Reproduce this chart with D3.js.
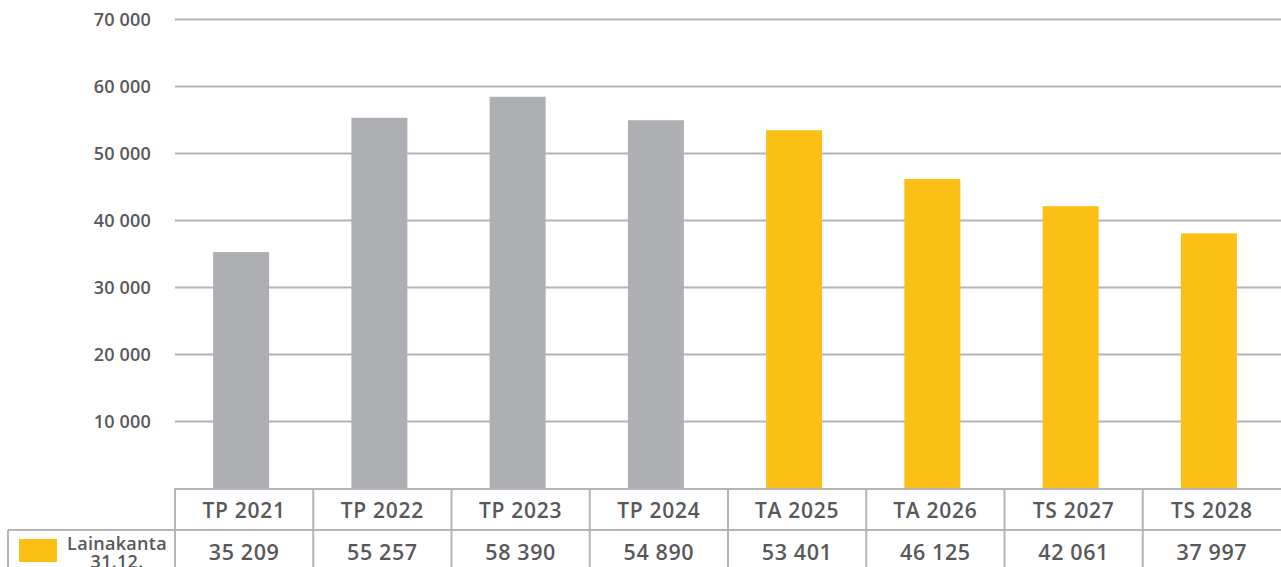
<!DOCTYPE html>
<html>
<head>
<meta charset="utf-8">
<script src="https://cdn.jsdelivr.net/npm/d3@7"></script>
<style>
  html, body { margin: 0; padding: 0; background: #fff; }
  svg { display: block; font-family: "Open Sans", sans-serif; }
</style>
</head>
<body>
<div id="chart"></div>
<script>
// Lainakanta chart
var years = ["TP 2021", "TP 2022", "TP 2023", "TP 2024", "TA 2025", "TA 2026", "TS 2027", "TS 2028"]
var values = [35209, 55257, 58390, 54890, 53401, 46125, 42061, 37997]
var actual = [true, true, true, true, false, false, false, false]
var yTicks = [10000, 20000, 30000, 40000, 50000, 60000, 70000]
var seriesName = ["Lainakanta", "31.12."]

var
  WIDTH = 1281,
  HEIGHT = 567,
  LEFT = 175,
  BASE = 488,
  TOP = 19,
  ROW1 = 530,
  GREY = "#aeafb3",
  YELLOW = "#fbbf15",
  LINE = "#b4b4b9",
  TEXT = "#58585a"

var fi = d3.formatLocale({ decimal: ",", thousands: " ", grouping: [3], currency: ["", ""] })
var fmt = fi.format(",d")

var svg = d3.select("#chart").append("svg")
  .attr("width", WIDTH)
  .attr("height", HEIGHT)

var x = d3.scaleBand().domain(years).range([LEFT, WIDTH]).padding(0)
var y = d3.scaleLinear().domain([0, 70000]).range([BASE, TOP])

// y axis + gridlines
var yAxis = svg.append("g")
  .attr("transform", "translate(" + LEFT + ",0)")
  .call(d3.axisLeft(y).tickValues(yTicks).tickSize(-(WIDTH - LEFT)).tickPadding(24).tickFormat(fmt))

yAxis.select(".domain").remove()
yAxis.selectAll(".tick line").attr("stroke", LINE).attr("stroke-width", 2)
yAxis.selectAll(".tick text")
  .attr("fill", TEXT)
  .attr("font-size", 18)
  .attr("font-weight", 600)
  .attr("letter-spacing", 0.2)
  .attr("font-family", "Open Sans, sans-serif")
  .attr("dy", "0.35em")

// bars
var bw = x.bandwidth() * 0.405
svg.append("g").selectAll("rect")
  .data(years)
  .join("rect")
  .attr("x", (d) => x(d) + x.bandwidth() / 2 - bw / 2 - 3)
  .attr("width", bw)
  .attr("y", (d, i) => y(values[i]))
  .attr("height", (d, i) => y(0) - y(values[i]))
  .attr("fill", (d, i) => actual[i] ? GREY : YELLOW)

// table lines
var tbl = svg.append("g").attr("stroke", LINE).attr("stroke-width", 2).attr("fill", "none")
tbl.append("line").attr("x1", LEFT).attr("x2", WIDTH).attr("y1", BASE + 1).attr("y2", BASE + 1)
tbl.append("line").attr("x1", 8).attr("x2", WIDTH).attr("y1", ROW1).attr("y2", ROW1)
tbl.append("line").attr("x1", 8).attr("x2", 8).attr("y1", ROW1).attr("y2", HEIGHT)
tbl.selectAll(".col")
  .data(years)
  .join("line")
  .attr("class", "col")
  .attr("x1", (d) => x(d))
  .attr("x2", (d) => x(d))
  .attr("y1", BASE)
  .attr("y2", HEIGHT)

// header row
svg.append("g").selectAll("text")
  .data(years)
  .join("text")
  .attr("x", (d) => x(d) + x.bandwidth() / 2)
  .attr("y", 518)
  .attr("text-anchor", "middle")
  .attr("fill", TEXT)
  .attr("font-size", 21)
  .attr("font-weight", 600)
  .attr("letter-spacing", 0.7)
  .text((d) => d)

// value row
svg.append("g").selectAll("text")
  .data(values)
  .join("text")
  .attr("x", (d, i) => x(years[i]) + x.bandwidth() / 2)
  .attr("y", 560)
  .attr("text-anchor", "middle")
  .attr("fill", TEXT)
  .attr("font-size", 21.5)
  .attr("font-weight", 600)
  .attr("letter-spacing", 0.6)
  .text((d) => fmt(d))

// legend cell
svg.append("rect")
  .attr("x", 19).attr("y", 539)
  .attr("width", 38).attr("height", 23)
  .attr("fill", YELLOW)

svg.append("g").selectAll("text")
  .data(seriesName)
  .join("text")
  .attr("x", 117)
  .attr("y", (d, i) => 550 + i * 18)
  .attr("text-anchor", "middle")
  .attr("fill", TEXT)
  .attr("font-size", 18)
  .attr("font-weight", 600)
  .attr("letter-spacing", 0.3)
  .text((d) => d)
</script>
</body>
</html>
